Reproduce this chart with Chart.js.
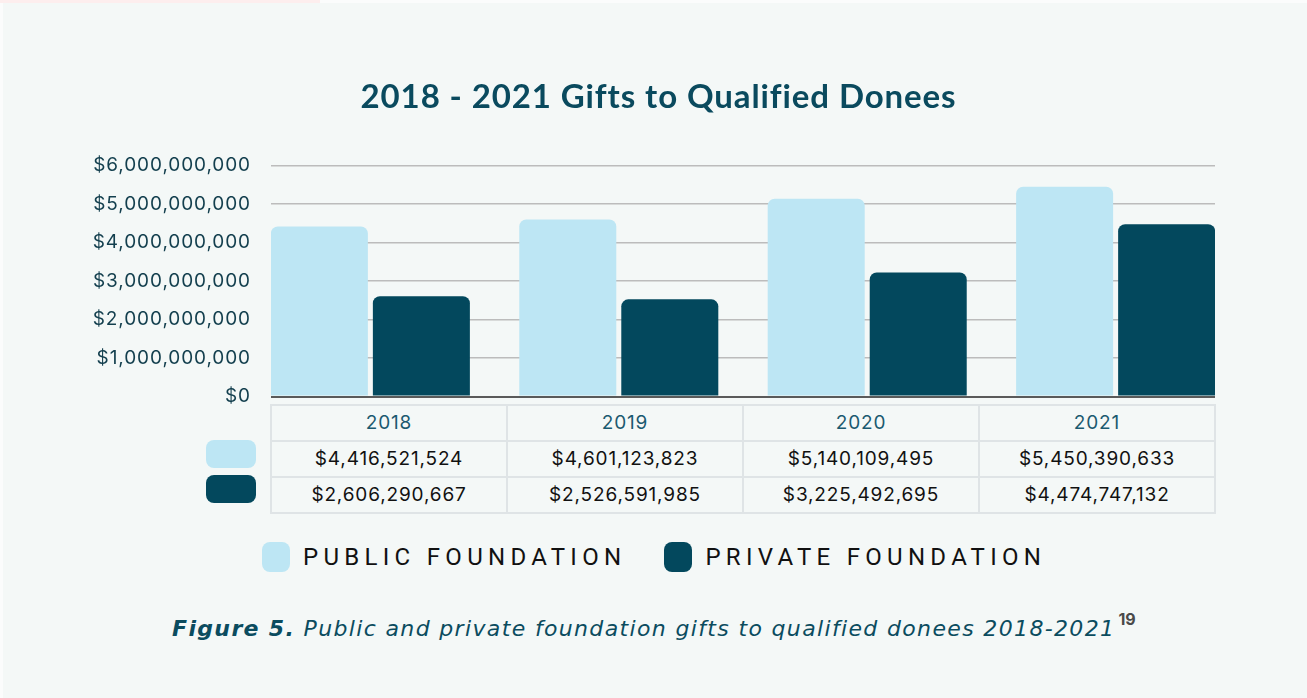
<!DOCTYPE html>
<html lang="en">
<head>
  <meta charset="UTF-8">
  <title>2018 - 2021 Gifts to Qualified Donees</title>
  <script src="https://cdn.jsdelivr.net/npm/chart.js"></script>
  <style>
    body { margin: 0; width: 1307px; height: 698px; background: #fbfcfc; overflow: hidden; font-family: 'Inter', sans-serif; }
    #page { position: absolute; left: 3px; top: 3px; right: 0; bottom: 0; background: #f4f8f7; }
    #pink { position: absolute; left: 0; top: 0; width: 320px; height: 3px; background: #fdeeee; }
    #chartBox { position: absolute; left: 0; top: 0; width: 1307px; height: 428px; }
    #table { position: absolute; left: 270px; top: 404px; width: 942px; padding: 2px; background: #dfe4e6;
             display: grid; grid-template-columns: repeat(4, 1fr); gap: 2px; }
    #table div { background: #f4f8f7; height: 34px; line-height: 34px; text-align: center; font-size: 19px; letter-spacing: 0.85px; color: #111; }
    #table div.year { color: #1b5a70; }
    .sw { position: absolute; border-radius: 8px; }
    #legend { position: absolute; left: 262px; top: 541px; display: flex; align-items: center; height: 32px; }
    #legend span.box { width: 28px; height: 30px; border-radius: 8px; display: inline-block; }
    #legend span.txt { font-family: 'Roboto'; font-size: 24px; letter-spacing: 5.3px; color: #111; margin: 0 38px 0 13px; }
    #caption { position: absolute; left: 172px; top: 612px; font-family: 'DejaVu Sans'; font-style: italic; font-size: 22px; letter-spacing: 1.35px; color: #0b4c5f; white-space: nowrap; }
    #caption b { font-weight: bold; }
    #caption sup { font-family: 'Inter'; font-style: normal; font-weight: bold; font-size: 16px; letter-spacing: 0; color: #4a4a4a; position: relative; top: -3px; margin-left: 3px; }
  </style>
</head>
<body>
<div id="page"></div>
<div id="pink"></div>
<div id="chartBox"><canvas id="giftsChart"></canvas></div>
<div id="table"></div>
<div id="legend"></div>
<div id="caption"><b>Figure 5.</b> Public and private foundation gifts to qualified donees 2018-2021<sup>19</sup></div>
<script>
  const years = ['2018', '2019', '2020', '2021'];
  const publicValues = [4416521524, 4601123823, 5140109495, 5450390633];
  const privateValues = [2606290667, 2526591985, 3225492695, 4474747132];
  const seriesNames = ['PUBLIC FOUNDATION', 'PRIVATE FOUNDATION'];
  const yTicks = [0, 1000000000, 2000000000, 3000000000, 4000000000, 5000000000, 6000000000];

  const colors = ['#bde6f4', '#03485d'];
  const money = v => '$' + v.toLocaleString('en-US');

  function buildTable() {
    const table = document.getElementById('table');
    let html = years.map(y => '<div class="year">' + y + '</div>').join('');
    html += publicValues.map(v => '<div>' + money(v) + '</div>').join('');
    html += privateValues.map(v => '<div>' + money(v) + '</div>').join('');
    table.innerHTML = html;

    // colour keys next to the value rows
    [440, 475].forEach((top, i) => {
      const d = document.createElement('div');
      d.className = 'sw';
      d.style.cssText = 'left:206px;top:' + top + 'px;width:50px;height:28px;background:' + colors[i];
      document.body.appendChild(d);
    });

    document.getElementById('legend').innerHTML = seriesNames.map((name, i) =>
      '<span class="box" style="background:' + colors[i] + '"></span><span class="txt">' + name + '</span>').join('');
  }

  // wider tick text, like the original typeface
  const spacing = {
    id: 'spacing',
    beforeDraw: chart => { chart.ctx.letterSpacing = '0.9px'; }
  };

  function createChart() {
    const ctx = document.getElementById('giftsChart').getContext('2d');
    new Chart(ctx, {
      type: 'bar',
      data: {
        datasets: [publicValues, privateValues].map((vals, i) => ({
          label: seriesNames[i],
          data: vals.map((v, j) => ({ x: j, y: v })),
          backgroundColor: colors[i],
          borderRadius: 7,
          categoryPercentage: 0.8213,
          barPercentage: 0.951
        }))
      },
      plugins: [spacing],
      options: {
        responsive: true,
        maintainAspectRatio: false,
        animation: false,
        layout: { padding: { left: 10, right: 0, top: 0, bottom: 0 } },
        plugins: {
          legend: { display: false },
          tooltip: { enabled: false },
          title: {
            display: true,
            text: '2018 - 2021 Gifts to Qualified Donees',
            color: '#0a4a5e',
            font: { family: 'Lato', size: 33, weight: 'bold' },
            padding: { top: 78, bottom: 48 }
          }
        },
        scales: {
          x: {
            type: 'linear', min: -0.4, max: 3.4, offset: false, display: false,
            afterBuildTicks: scale => { scale.ticks = years.map((y, i) => ({ value: i })); }
          },
          y: {
            min: yTicks[0],
            max: yTicks[yTicks.length - 1],
            afterBuildTicks: scale => { scale.ticks = yTicks.map(v => ({ value: v })); },
            afterFit: scale => { scale.width = 261; },
            border: { display: false },
            grid: {
              drawTicks: false,
              color: c => c.tick.value === 0 ? '#5a5a5a' : '#bcbcbc',
              lineWidth: c => c.tick.value === 0 ? 2 : 1.5
            },
            ticks: {
              padding: 20,
              color: '#133f4e',
              font: { family: 'Inter', size: 19 },
              callback: v => money(v)
            }
          },
          // empty right-hand margin so the title centres like the original
          side: {
            position: 'right',
            afterFit: scale => { scale.width = 92; },
            border: { display: false },
            grid: { display: false },
            ticks: { display: false }
          }
        }
      }
    });
  }

  window.onload = function() {
    buildTable();
    createChart();
  };
</script>
</body>
</html>
